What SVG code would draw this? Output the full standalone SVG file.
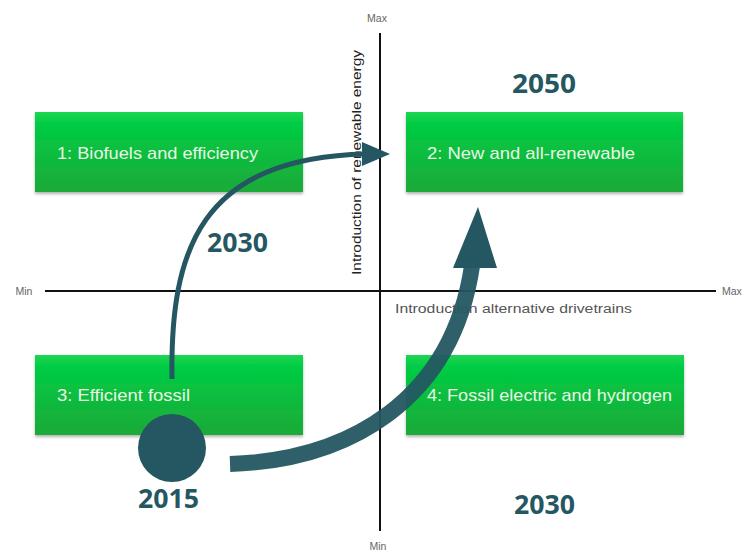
<svg xmlns="http://www.w3.org/2000/svg" width="747" height="552" viewBox="0 0 747 552">
  <style>
    .box { fill: url(#g); filter: url(#sh); }
    .bt { font-family: "Liberation Sans", Arial, sans-serif; font-size: 17px; fill: #e8f7e4; }
    .yr { font-family: "Open Sans", "Liberation Sans", sans-serif; font-size: 26px; font-weight: bold; fill: #245761; }
    .ax { font-family: "Liberation Sans", Arial, sans-serif; font-size: 10.5px; fill: #666; }
    .al { font-family: "Liberation Sans", Arial, sans-serif; font-size: 12px; }
    .axis { stroke: #111; stroke-width: 2; fill: none; }
  </style>
  <defs>
    <linearGradient id="g" x1="0" y1="0" x2="0" y2="1">
      <stop offset="0" stop-color="#1fd652"/>
      <stop offset="0.15" stop-color="#00cc44"/>
      <stop offset="1" stop-color="#1caa38"/>
    </linearGradient>
    <filter id="sh" x="-5%" y="-10%" width="110%" height="125%">
      <feDropShadow dx="0" dy="2" stdDeviation="1.5" flood-color="#000" flood-opacity="0.3"/>
    </filter>
  </defs>
  <rect width="747" height="552" fill="#fff"/>

  <g id="axes">
    <line class="axis" x1="45" y1="291" x2="716" y2="291"/>
    <line class="axis" x1="380" y1="33" x2="380" y2="531"/>
    <text class="ax" x="377" y="22" text-anchor="middle">Max</text>
    <text class="ax" x="24" y="295" text-anchor="middle">Min</text>
    <text class="ax" x="722" y="295">Max</text>
    <text class="ax" x="378" y="550" text-anchor="middle">Min</text>
    <text class="al" fill="#555" x="395" y="313" textLength="237" lengthAdjust="spacingAndGlyphs">Introduction alternative drivetrains</text>
    <text class="al" fill="#222" transform="translate(361,275) rotate(-90)" x="0" y="0" textLength="225" lengthAdjust="spacingAndGlyphs">Introduction of renewable energy</text>
  </g>

  <g id="node1">
    <rect class="box" x="35" y="112" width="268" height="80"/>
    <text class="bt" x="57" y="159" textLength="201" lengthAdjust="spacingAndGlyphs">1: Biofuels and efficiency</text>
  </g>
  <g id="node2">
    <rect class="box" x="406" y="112" width="277" height="80"/>
    <text class="bt" x="427" y="159" textLength="208" lengthAdjust="spacingAndGlyphs">2: New and all-renewable</text>
  </g>
  <g id="node3">
    <rect class="box" x="35" y="355" width="268" height="80"/>
    <text class="bt" x="57" y="401" textLength="133" lengthAdjust="spacingAndGlyphs">3: Efficient fossil</text>
  </g>
  <g id="node4">
    <rect class="box" x="406" y="355" width="278" height="80"/>
    <text class="bt" x="427" y="401" textLength="245" lengthAdjust="spacingAndGlyphs">4: Fossil electric and hydrogen</text>
  </g>

  <g id="start">
    <circle cx="172" cy="448" r="34" fill="#245761"/>
  </g>

  <g id="connectors">
    <path d="M172,379 C170,250 200,158 366,154" fill="none" stroke="#245761" stroke-width="5"/>
    <polygon points="362,142 390,154 362,166" fill="#245761"/>
    <path d="M230,464 C350,460 452,400 472,266" fill="none" stroke="#245761" stroke-width="16" stroke-opacity="0.95"/>
    <polygon points="453,268 497,268 478,207" fill="#245761"/>
  </g>

  <g id="years">
    <text class="yr" x="512" y="93" textLength="64" lengthAdjust="spacingAndGlyphs">2050</text>
    <text class="yr" x="207" y="252" textLength="61" lengthAdjust="spacingAndGlyphs">2030</text>
    <text class="yr" x="138" y="508" textLength="61" lengthAdjust="spacingAndGlyphs">2015</text>
    <text class="yr" x="514" y="514" textLength="61" lengthAdjust="spacingAndGlyphs">2030</text>
  </g>
</svg>
